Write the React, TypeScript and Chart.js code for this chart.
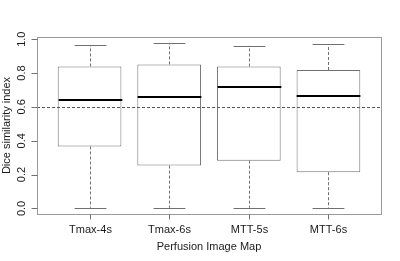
import React, { useEffect, useRef } from "react";
import { Chart, registerables } from "chart.js";
Chart.register(...registerables);

const categories = ["Tmax-4s", "Tmax-6s", "MTT-5s", "MTT-6s"];
const whiskerLow = [0.004, 0.004, 0.004, 0.004];
const q1 = [0.366, 0.253, 0.282, 0.214];
const median = [0.639, 0.657, 0.72, 0.663];
const q3 = [0.839, 0.851, 0.839, 0.818];
const whiskerHigh = [0.965, 0.975, 0.961, 0.971];
const yTicks = [0, 0.2, 0.4, 0.6, 0.8, 1.0];
const refLine = 0.6;
const xTitle = "Perfusion Image Map";
const yTitle = "Dice similarity index";

const FONT = '11px "Liberation Sans", Arial, sans-serif';
const TEXT = "#1a1a1a";
const LINE = "#707070";
const FRAME = "#9a9a9a";

const boxPlugin = {
  id: "boxExtras",
  afterDatasetsDraw(chart: any) {
    const ctx = chart.ctx;
    const xs = chart.scales.x;
    const ys = chart.scales.y;
    const boxHalf = xs.getPixelForValue(1.4) - xs.getPixelForValue(1);
    const capHalf = boxHalf / 2;
    ctx.save();
    categories.forEach((_, i) => {
      const cx = Math.round(xs.getPixelForValue(i + 1)) + 0.5;
      ctx.strokeStyle = LINE;
      ctx.lineWidth = 1;
      ctx.setLineDash([3, 2]);
      ctx.beginPath();
      ctx.moveTo(cx, ys.getPixelForValue(q3[i]));
      ctx.lineTo(cx, ys.getPixelForValue(whiskerHigh[i]));
      ctx.moveTo(cx, ys.getPixelForValue(q1[i]));
      ctx.lineTo(cx, ys.getPixelForValue(whiskerLow[i]));
      ctx.stroke();
      ctx.setLineDash([]);
      ctx.beginPath();
      const yh = Math.round(ys.getPixelForValue(whiskerHigh[i])) + 0.5;
      const yl = Math.round(ys.getPixelForValue(whiskerLow[i])) + 0.5;
      ctx.moveTo(cx - capHalf, yh);
      ctx.lineTo(cx + capHalf, yh);
      ctx.moveTo(cx - capHalf, yl);
      ctx.lineTo(cx + capHalf, yl);
      ctx.stroke();
      ctx.strokeStyle = "#000";
      ctx.lineWidth = 2;
      const ym = Math.round(ys.getPixelForValue(median[i]));
      ctx.beginPath();
      ctx.moveTo(cx - boxHalf, ym);
      ctx.lineTo(cx + boxHalf, ym);
      ctx.stroke();
    });
    const area = chart.chartArea;
    const yr = Math.round(ys.getPixelForValue(refLine)) + 0.5;
    ctx.strokeStyle = "#555";
    ctx.lineWidth = 1;
    ctx.setLineDash([3, 2]);
    ctx.beginPath();
    ctx.moveTo(area.left, yr);
    ctx.lineTo(area.right, yr);
    ctx.stroke();
    ctx.restore();
  },
  afterDraw(chart: any) {
    const ctx = chart.ctx;
    const xs = chart.scales.x;
    const ys = chart.scales.y;
    const a = chart.chartArea;
    ctx.save();
    ctx.strokeStyle = FRAME;
    ctx.lineWidth = 1;
    ctx.setLineDash([]);
    const L = Math.round(a.left) + 0.5;
    const R = Math.round(a.right) + 0.5;
    const T = Math.round(a.top) + 0.5;
    const B = Math.round(a.bottom) + 0.5;
    ctx.strokeRect(L, T, R - L, B - T);
    ctx.font = FONT;
    ctx.fillStyle = TEXT;
    ctx.strokeStyle = LINE;
    yTicks.forEach((v) => {
      const y = Math.round(ys.getPixelForValue(v)) + 0.5;
      ctx.beginPath();
      ctx.moveTo(L - 6, y);
      ctx.lineTo(L, y);
      ctx.stroke();
      ctx.save();
      ctx.translate(25, ys.getPixelForValue(v));
      ctx.rotate(-Math.PI / 2);
      ctx.textAlign = "center";
      ctx.textBaseline = "alphabetic";
      ctx.fillText(v.toFixed(1), 0, 0);
      ctx.restore();
    });
    categories.forEach((c, i) => {
      const x = Math.round(xs.getPixelForValue(i + 1)) + 0.5;
      ctx.beginPath();
      ctx.moveTo(x, B);
      ctx.lineTo(x, B + 5);
      ctx.stroke();
      ctx.textAlign = "center";
      ctx.textBaseline = "alphabetic";
      ctx.fillText(c, x, 233);
    });
    ctx.textAlign = "center";
    ctx.fillText(xTitle, (a.left + a.right) / 2, 250);
    ctx.save();
    ctx.translate(9.5, (a.top + a.bottom) / 2);
    ctx.rotate(-Math.PI / 2);
    ctx.fillText(yTitle, 0, 0);
    ctx.restore();
    ctx.restore();
  },
};

export default function App() {
  const ref = useRef<HTMLCanvasElement | null>(null);
  useEffect(() => {
    document.body.style.margin = "0";
    const canvas = ref.current;
    if (!canvas) return;
    const chart = new Chart(canvas, {
      type: "bar",
      data: {
        datasets: [
          {
            data: categories.map((_, i) => ({ x: i + 1, y: [q1[i], q3[i]] })) as any,
            backgroundColor: "#ffffff",
            borderColor: LINE,
            borderWidth: 1,
            borderSkipped: false,
            barPercentage: 0.8,
            categoryPercentage: 1,
          },
        ],
      },
      options: {
        animation: false,
        responsive: false,
        maintainAspectRatio: false,
        layout: { padding: { left: 37, right: 19, top: 37, bottom: 47 } },
        plugins: { legend: { display: false }, tooltip: { enabled: false } },
        scales: {
          x: {
            type: "linear",
            min: 0.34,
            max: 4.66,
            offset: false,
            display: false,
            afterBuildTicks: (scale: any) => {
              scale.ticks = categories.map((_, i) => ({ value: i + 1 }));
            },
          },
          y: { type: "linear", min: -0.033, max: 1.013, display: false },
        },
      },
      plugins: [boxPlugin],
    });
    return () => chart.destroy();
  }, []);
  return <canvas ref={ref} width={400} height={261} style={{ display: "block" }} />;
}
